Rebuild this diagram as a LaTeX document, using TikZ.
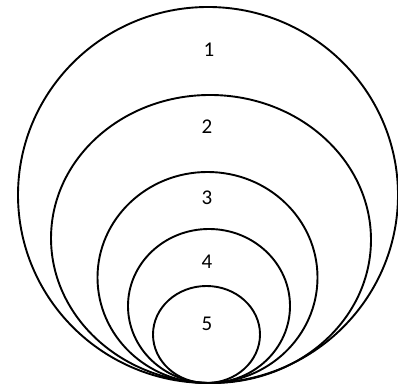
\documentclass[tikz,border=0pt]{standalone}
\usepackage{fontspec}
\setmainfont{Carlito}
\usepackage{tikz}

\begin{document}
\begin{tikzpicture}[x=1pt, y=1pt,
    ring/.style={black, line width=1.9pt},
    ringlabel/.style={font=\fontsize{21}{24}\selectfont, inner sep=0pt}]

    \useasboundingbox (0,0) rectangle (398,385);

    % Nested rings, all touching at the bottom
    \foreach \cx/\cy/\a/\b/\r in {208/190/190/188/0, 211/146/160/144/-1.6,
                                  207.5/107.5/110/105.5/0, 209/79/81/77/0,
                                  206.5/50.5/53.5/48.5/0} {
        \draw[ring, rotate around={\r:(\cx,\cy)}] (\cx,\cy) ellipse [x radius=\a, y radius=\b];
    }

    % Labels of the rings
    \node[ringlabel] (lab1) at (209,335) {1};
    \node[ringlabel] (lab2) at (207,258) {2};
    \node[ringlabel] (lab3) at (207,187) {3};
    \node[ringlabel] (lab4) at (207,123) {4};
    \node[ringlabel] (lab5) at (207,61)  {5};

\end{tikzpicture}
\end{document}
